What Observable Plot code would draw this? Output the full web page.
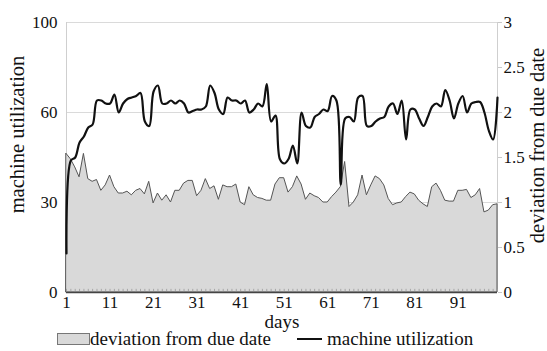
<!DOCTYPE html>
<html><head><meta charset="utf-8">
<script src="https://cdn.jsdelivr.net/npm/d3@7"></script>
<script src="https://cdn.jsdelivr.net/npm/@observablehq/plot@0.6"></script>
<style>
body{margin:0;background:#fff;font-family:"Liberation Serif","Times New Roman",serif;}
#wrap{position:relative;width:547px;height:351px;overflow:hidden;}
#chart{position:absolute;left:0;top:0;}
#chart svg, #chart svg text{font-family:"Liberation Serif","Times New Roman",serif !important;font-variant:normal !important;}
.lg{position:absolute;font-size:19px;color:#111;line-height:20px;white-space:nowrap;}
</style></head><body>
<div id="wrap"><div id="chart"></div>
<div class="lg" style="left:57px;top:333px;width:31px;height:10px;background:#d9d9d9;border:1px solid #777;"></div>
<div class="lg" style="left:90px;top:329px;">deviation from due date</div>
<div class="lg" style="left:297px;top:338px;width:25px;height:2px;background:#111;"></div>
<div class="lg" style="left:327px;top:329px;">machine utilization</div>
</div>
<script>
const days = d3.range(1, 101);
const deviation = [
1.54,1.48,1.39,1.28,1.54,1.26,1.23,1.25,1.13,1.19,
1.30,1.17,1.10,1.10,1.12,1.08,1.13,1.15,1.09,1.23,
0.99,1.10,1.02,1.08,1.00,1.13,1.13,1.21,1.24,1.24,
1.07,1.13,1.26,1.15,1.18,1.03,1.19,1.17,1.17,1.20,
1.00,0.97,1.17,1.08,1.05,1.04,1.02,1.02,1.20,1.27,
1.27,1.11,1.17,1.29,1.20,1.03,1.10,1.07,1.05,1.00,
1.00,1.06,1.11,1.17,1.45,0.95,1.00,1.08,1.30,1.08,
1.19,1.29,1.26,1.19,1.04,0.97,0.99,1.00,1.06,1.11,
1.09,1.02,0.98,0.95,1.17,1.21,1.13,1.02,1.01,1.01,
1.13,1.13,1.14,1.05,1.08,1.15,0.89,0.91,0.97,0.98];
const utilization = [
13,44,45,50,52,55,56,64,64,63,
63,66,60,63,64.5,65,65.5,66.5,57,55.5,
67,69,63,63,64,63,64,63,60,60.5,
61,61,62,69,66.5,61,59.5,65,64,64,
63,64,60,61,63,62,69.5,57,59,44.5,
43,44.5,49,43,60,55.5,55,58.5,59.5,61,
60.5,65.5,64,36,58,58.5,57,65,65.5,55.5,
55.5,57,58,58.5,62,63,59.5,64,51,61,
61,58,55.5,58.5,62,63,62,67.5,64,58,
63,65.5,60,63,63.5,63.5,60,54,51,65];
const xTicks = [1,11,21,31,41,51,61,71,81,91];
const leftTicks = [0,1,2,3];
const leftTickLabels = ["0","30","60","100"];
const rightTicks = [0,0.5,1,1.5,2,2.5,3];
const leftTitle = "machine utilization";
const rightTitle = "deviation from due date";
const xTitle = "days";

const data = days.map((d, i) => ({day: d, dev: deviation[i], util: utilization[i]}));
const serif = "Liberation Serif, Times New Roman, serif";

const chart = Plot.plot({
  width: 547, height: 351,
  marginLeft: 66, marginRight: 50, marginTop: 22, marginBottom: 59,
  style: {fontSize: "17px", color: "#111", background: "#fff"},
  x: {domain: [1, 100], axis: null},
  y: {domain: [0, 3], axis: null},
  marks: [
    Plot.ruleY([1, 2, 3], {stroke: "#dadada", strokeWidth: 1}),
    Plot.ruleX([1], {stroke: "#cfcfcf"}),
    Plot.ruleX([100], {stroke: "#cfcfcf"}),
    Plot.areaY(data, {x: "day", y: "dev", fill: "#d9d9d9", stroke: "#555", strokeWidth: 1}),
    Plot.ruleX(days, {x: d => d, y1: 0, y2: 0.035, stroke: "#999", strokeWidth: 0.8}),
    Plot.ruleY([0], {stroke: "#444", strokeWidth: 1.5}),
    Plot.lineY(data, {x: "day", y: d => d.util / 30, curve: "catmull-rom", stroke: "#111", strokeWidth: 2.2}),
    Plot.axisY(rightTicks, {anchor: "right", tickSize: 4, stroke: "#c8c8c8", label: null, tickFormat: () => ""}),
    Plot.text(xTicks, {x: d => d, text: d => String(d), frameAnchor: "bottom", lineAnchor: "middle", textAnchor: "middle", dy: 10, fontSize: 17, fontFamily: serif, fill: "#111"}),
    Plot.text(leftTicks, {y: d => d, text: d => leftTickLabels[leftTicks.indexOf(d)], frameAnchor: "left", lineAnchor: "middle", textAnchor: "end", dx: -9, fontSize: 17, fontFamily: serif, fill: "#111"}),
    Plot.text(rightTicks, {y: d => d, text: d => String(d), frameAnchor: "right", lineAnchor: "middle", textAnchor: "start", dx: 6, fontSize: 17, fontFamily: serif, fill: "#111"}),
    Plot.text([leftTitle], {text: d => d, frameAnchor: "left", textAnchor: "middle", lineAnchor: "middle", dx: -49, dy: -23, rotate: -90, fontSize: 20.5, fontFamily: serif, fill: "#111"}),
    Plot.text([rightTitle], {text: d => d, frameAnchor: "right", textAnchor: "middle", lineAnchor: "middle", dx: 40, dy: -12, rotate: -90, fontSize: 20.5, fontFamily: serif, fill: "#111"}),
    Plot.text([xTitle], {text: d => d, frameAnchor: "bottom", textAnchor: "middle", lineAnchor: "middle", dy: 29, fontSize: 19, fontFamily: serif, fill: "#111"})
  ]
});
chart.querySelectorAll("text, g").forEach(el => { el.style.fontFamily = '"Liberation Serif", "Times New Roman", serif'; });
document.getElementById("chart").appendChild(chart);
</script>
</body></html>
